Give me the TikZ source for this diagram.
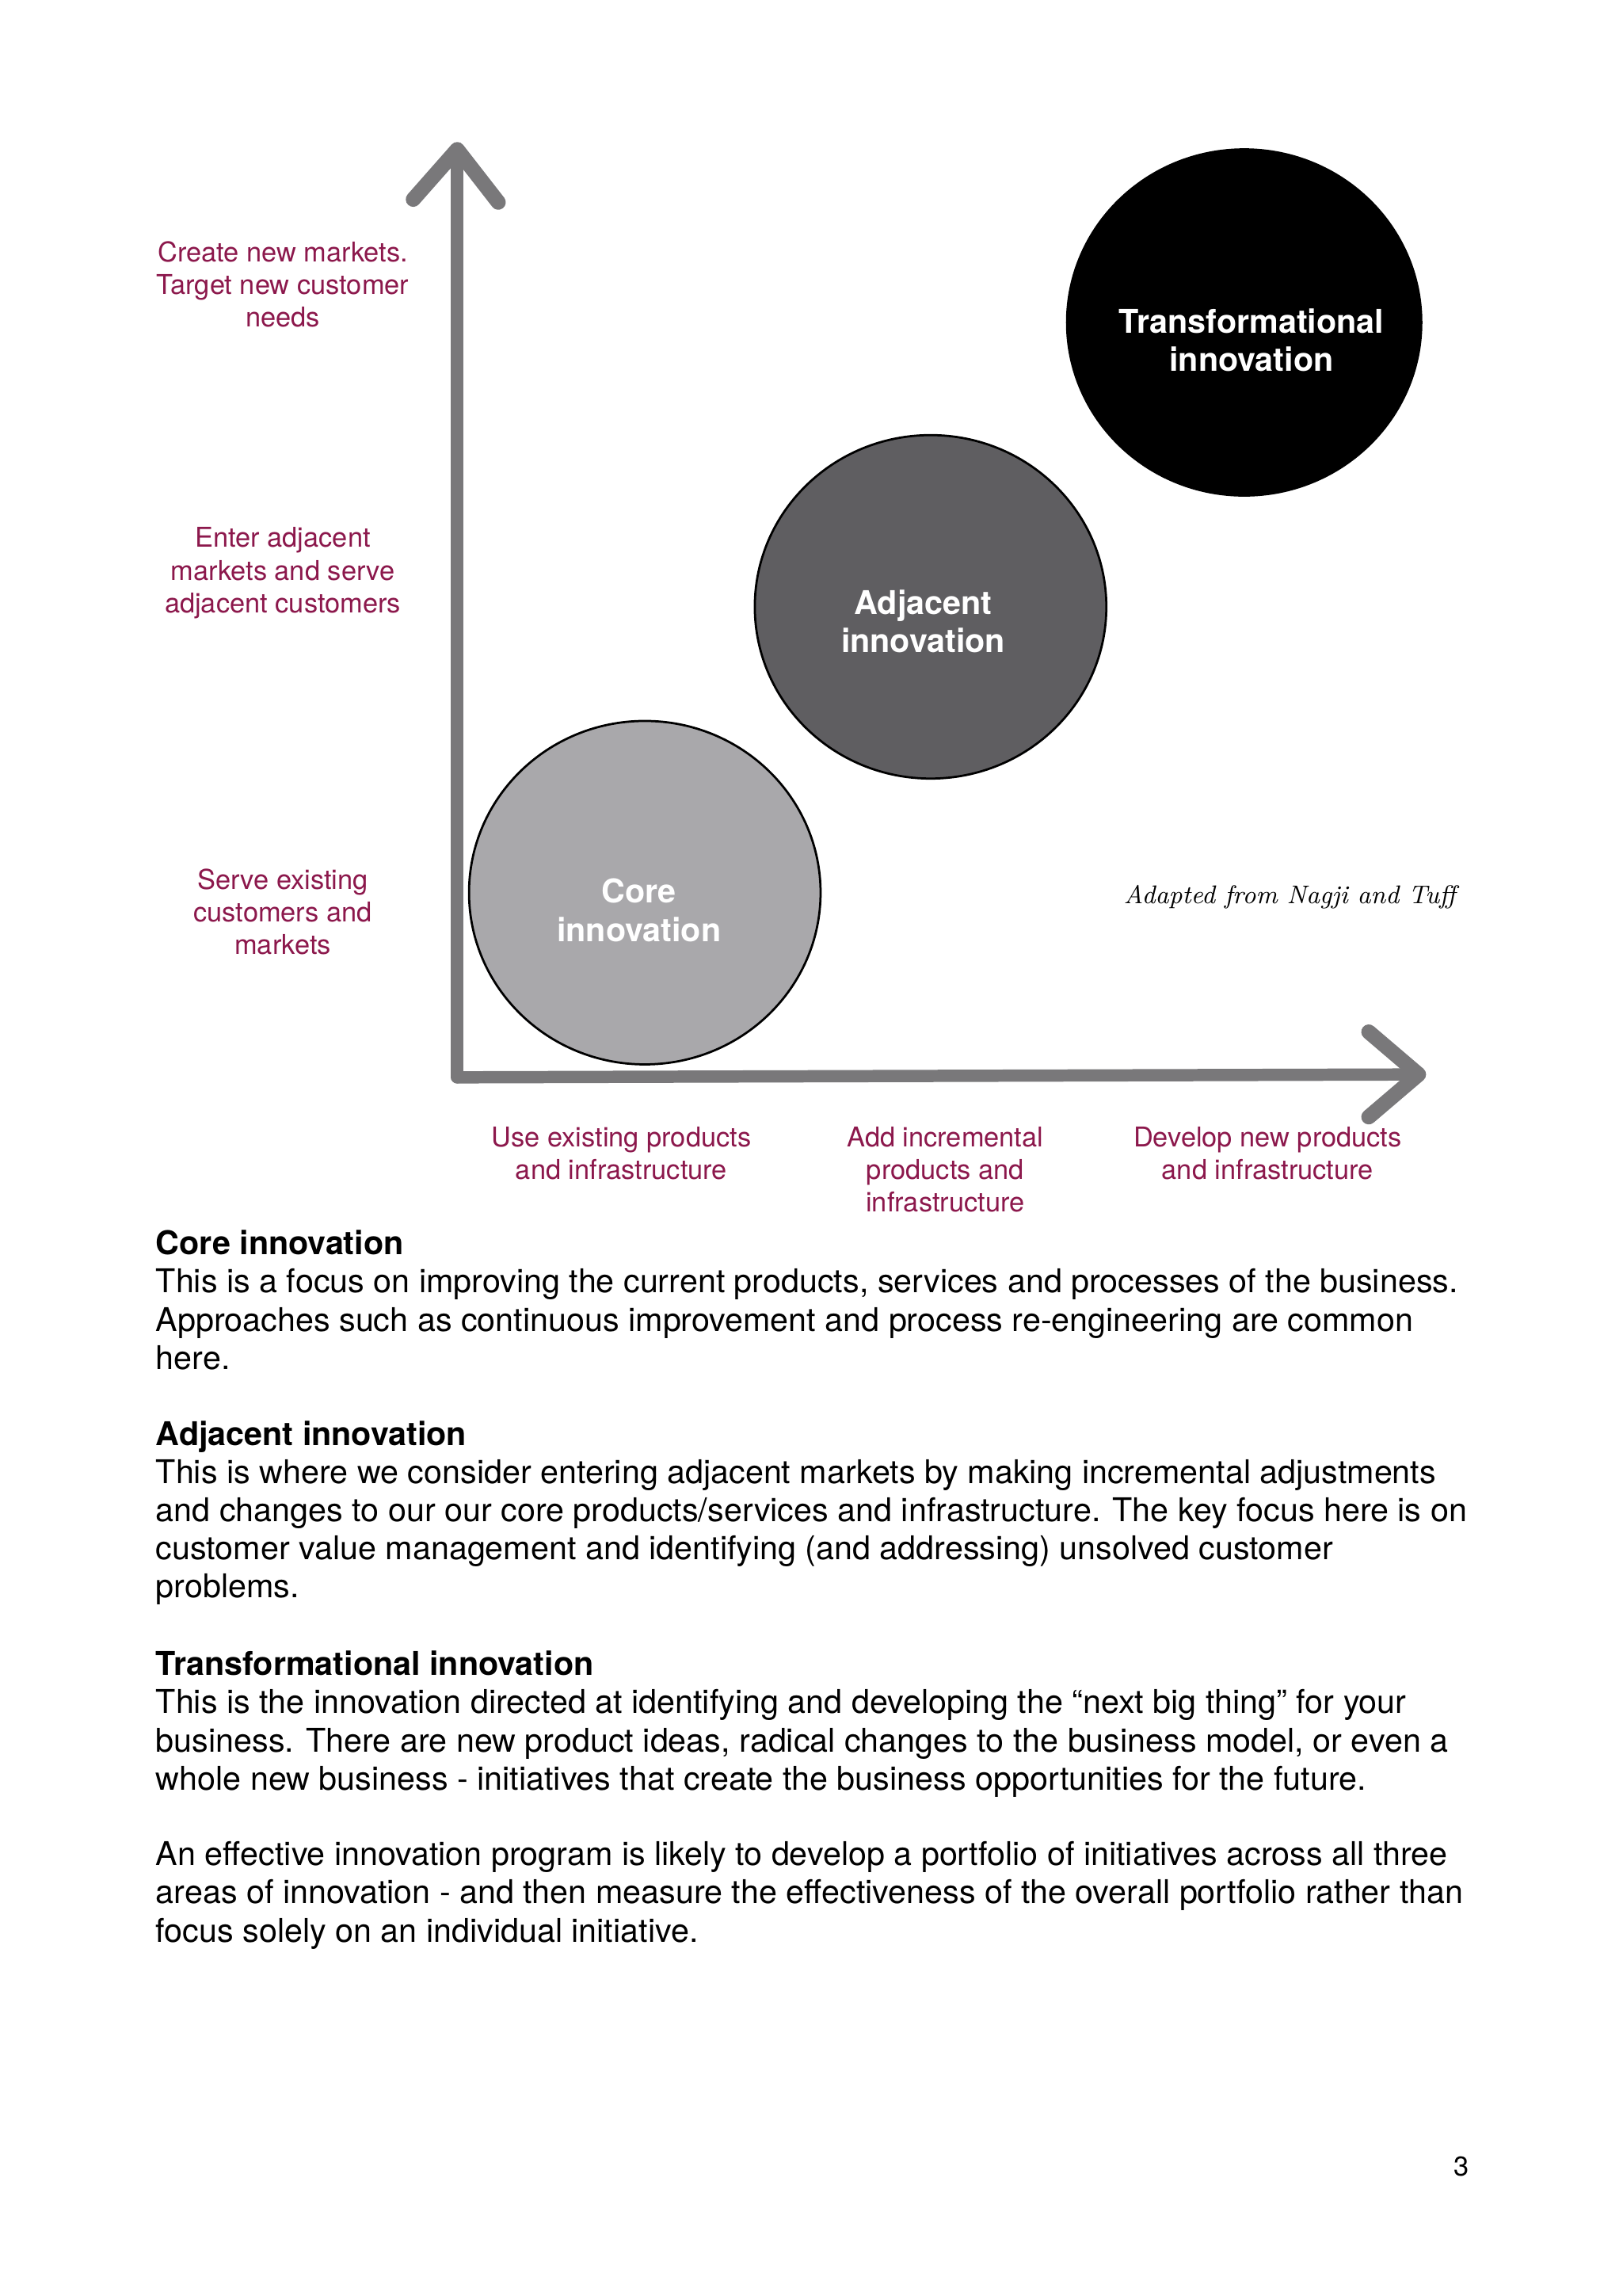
\documentclass[tikz,border=0pt]{standalone}
\usepackage{fontspec}
\setsansfont{TeX Gyre Heros}
\renewcommand{\familydefault}{\sfdefault}
\usetikzlibrary{shapes.geometric,arrows.meta}

\definecolor{labelred}{RGB}{140,24,76}
\definecolor{axisgray}{RGB}{121,120,122}
\definecolor{coregray}{RGB}{169,168,171}
\definecolor{adjgray}{RGB}{95,94,97}

\tikzset{
  axislabel/.style={text=labelred, font=\fontsize{10}{12}\selectfont, align=center},
  bubble/.style={ellipse, draw=black, line width=0.8pt, minimum width=129pt, minimum height=126pt, inner sep=0pt},
  bubbletext/.style={text=white, font=\fontsize{12}{14}\selectfont\bfseries, align=center},
  bodytext/.style={font=\fontsize{12}{14}\selectfont, align=left, anchor=north west, inner sep=0pt},
  brush/.style={axisgray, line width=4.5pt, line cap=round, line join=round},
  brushhead/.style={axisgray, line width=5.5pt, line cap=round, line join=round},
}

\begin{document}
\begin{tikzpicture}[x=0.53774pt, y=-0.53774pt]
\useasboundingbox[fill=white] (0,0) rectangle (1107,1566.4);

% axes
\coordinate (origin) at (312,735);
\coordinate (ytip) at (312,102);
\coordinate (ytip-l) at (282,136);
\coordinate (ytip-r) at (340,138);
\coordinate (xtip) at (968,733);
\coordinate (xtip-u) at (934,704);
\coordinate (xtip-d) at (934,762);
\draw [brush]   (origin) -- (ytip);
\draw [brushhead]   (ytip-l) -- (ytip) -- (ytip-r);
\draw [brush]   (origin) -- (xtip);
\draw [brushhead]   (xtip-u) -- (xtip) -- (xtip-d);

% bubbles
\node [bubble, fill=coregray] (core) at (440,609) {};
\node [bubbletext] (core-text) at (436,621) {Core\\innovation};

\node [bubble, fill=adjgray] (adjacent) at (635,414) {};
\node [bubbletext] (adjacent-text) at (630,424) {Adjacent\\innovation};

\node [bubble, fill=black, minimum width=130pt, minimum height=127pt] (transform) at (849,220) {};
\node [bubbletext] (transform-text) at (854,232) {Transformational\\innovation};

% market labels
\node [axislabel] (lbl-new) at (193,194) {Create new markets.\\Target new customer\\needs};
\node [axislabel] (lbl-adj) at (193,391) {Enter adjacent\\markets and serve\\adjacent customers};
\node [axislabel] (lbl-core) at (193,622) {Serve existing\\customers and\\markets};

% product labels
\node [axislabel] (lbl-use) at (424,787) {Use existing products\\and infrastructure};
\node [axislabel] (lbl-add) at (645,798) {Add incremental\\products and\\infrastructure};
\node [axislabel] (lbl-dev) at (865,787) {Develop new products\\and infrastructure};

\node [font=\rmfamily\itshape\fontsize{9.4}{11}\selectfont] (source) at (880,612) {Adapted from Nagji and Tuff};

%%%%%%%%%%%%%%%%%%%%%%%%%%%%%%%%%%%%%%%%%%%%%%%%%%%%%%%%%%%%%%%%%

\node [bodytext] (core-desc) at (106,839) {\textbf{Core innovation}\\
This is a focus on improving the current products, services and processes of the business.\\
Approaches such as continuous improvement and process re-engineering are common\\
here.};

\node [bodytext] (adjacent-desc) at (106,969) {\textbf{Adjacent innovation}\\
This is where we consider entering adjacent markets by making incremental adjustments\\
and changes to our our core products/services and infrastructure. The key focus here is on\\
customer value management and identifying (and addressing) unsolved customer\\
problems.};

\node [bodytext] (transform-desc) at (106,1126) {\textbf{Transformational innovation}\\
This is the innovation directed at identifying and developing the \textquotedblleft next big thing\textquotedblright\ for your\\
business. There are new product ideas, radical changes to the business model, or even a\\
whole new business - initiatives that create the business opportunities for the future.};

\node [bodytext] (summary) at (106,1256) {An effective innovation program is likely to develop a portfolio of initiatives across all three\\
areas of innovation - and then measure the effectiveness of the overall portfolio rather than\\
focus solely on an individual initiative.};

\node [font=\fontsize{10}{12}\selectfont] (page-num) at (997,1478) {3};

\end{tikzpicture}
\end{document}
